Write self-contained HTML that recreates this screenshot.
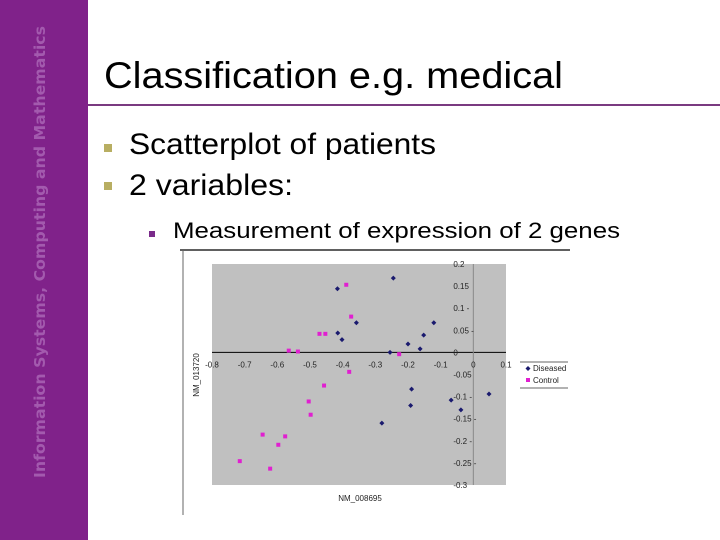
<!DOCTYPE html>
<html><head><meta charset="utf-8"><style>
body{margin:0;width:720px;height:540px;overflow:hidden;background:#fff;font-family:"Liberation Sans",sans-serif}
svg{display:block}
</style></head><body>
<svg width="720" height="540" viewBox="0 0 720 540">
<rect x="0" y="0" width="88" height="540" fill="#80228a"/>
<text transform="translate(45,478) rotate(-90)" font-family="'DejaVu Sans',sans-serif" font-weight="bold" font-size="15" fill="#a35aae" textLength="452" lengthAdjust="spacingAndGlyphs">Information Systems, Computing and Mathematics</text>
<text x="104" y="88" font-size="37" fill="#000" textLength="459" lengthAdjust="spacingAndGlyphs">Classification e.g. medical</text>
<rect x="88" y="104" width="632" height="2" fill="#7a3a80"/>
<rect x="104" y="144" width="8" height="8" fill="#b8ae62"/>
<text x="129" y="154" font-size="30" textLength="307" lengthAdjust="spacingAndGlyphs">Scatterplot of patients</text>
<rect x="104" y="182" width="8" height="8" fill="#b8ae62"/>
<text x="129" y="195" font-size="30" textLength="164" lengthAdjust="spacingAndGlyphs">2 variables:</text>
<rect x="149" y="231" width="6" height="6" fill="#7a2a8a"/>
<text x="173" y="238" font-size="22" textLength="447" lengthAdjust="spacingAndGlyphs">Measurement of expression of 2 genes</text>
<g id="chart"></g>
</svg>
<script>
const xTicks=[-0.8,-0.7,-0.6,-0.5,-0.4,-0.3,-0.2,-0.1,0,0.1];
const xTickLabels=["-0.8","-0.7","-0.6","-0.5","-0.4","-0.3","-0.2","-0.1","0","0.1"];
const yTicks=[0.2,0.15,0.1,0.05,0,-0.05,-0.1,-0.15,-0.2,-0.25,-0.3];
const yTickLabels=["0.2","0.15","0.1 -","0.05 -","0","-0.05","-0.1 -","-0.15 -","-0.2 -","-0.25 -","-0.3"];
const diseasedX=[-0.245,-0.416,-0.415,-0.402,-0.358,-0.255,-0.2,-0.163,-0.152,-0.121,-0.28,-0.189,-0.192,-0.068,-0.038,0.048];
const diseasedY=[0.168,0.144,0.044,0.029,0.067,0.0,0.019,0.008,0.039,0.067,-0.16,-0.083,-0.12,-0.108,-0.13,-0.094];
const controlX=[-0.389,-0.374,-0.471,-0.453,-0.565,-0.537,-0.227,-0.38,-0.457,-0.504,-0.498,-0.645,-0.576,-0.597,-0.715,-0.622];
const controlY=[0.153,0.081,0.042,0.042,0.004,0.002,-0.004,-0.044,-0.075,-0.111,-0.141,-0.186,-0.19,-0.209,-0.246,-0.263];
const NS="http://www.w3.org/2000/svg";
const g=document.getElementById('chart');
const X0=212,X1=506,Y0=264,Y1=485;
const sx=v=>X0+(v+0.8)/0.9*(X1-X0);
const sy=v=>Y0+(0.2-v)/0.5*(Y1-Y0);
function el(t,a){const e=document.createElementNS(NS,t);for(const k in a)e.setAttribute(k,a[k]);g.appendChild(e);return e;}
let e;
e=el('line',{x1:180,y1:250,x2:570,y2:250,stroke:'#000','stroke-width':1.2});


e=el('line',{x1:183,y1:250,x2:183,y2:515,stroke:'#666','stroke-width':1});


e=el('rect',{x:X0,y:Y0,width:X1-X0,height:Y1-Y0,fill:'#c0c0c0'});


e=el('line',{x1:X0,y1:sy(0),x2:X1,y2:sy(0),stroke:'#000','stroke-width':1});


e=el('line',{x1:sx(0),y1:Y0,x2:sx(0),y2:Y1,stroke:'#888','stroke-width':1});


xTicks.forEach((v,i)=>{
 const t=el('text',{x:sx(v),y:sy(0)+15,'font-size':8,'text-anchor':'middle',fill:'#222'});
 t.textContent=xTickLabels[i];
 
 
});
yTicks.forEach((v,i)=>{
 const t=el('text',{x:sx(0)-20,y:sy(v)+3,'font-size':8,'text-anchor':'start',fill:'#222'});
 t.textContent=yTickLabels[i];
 
 
});
diseasedX.forEach((v,i)=>{
 const cx=sx(v),cy=sy(diseasedY[i]);
 const p=el('polygon',{points:`${cx},${cy-2.5} ${cx+2.5},${cy} ${cx},${cy+2.5} ${cx-2.5},${cy}`,fill:'#1a1a6e'});
 
 
});
controlX.forEach((v,i)=>{
 const cx=sx(v),cy=sy(controlY[i]);
 const p=el('rect',{x:cx-2,y:cy-2,width:4,height:4,fill:'#e020d0'});
 
 
});
e=el('text',{x:360,y:501,'font-size':8,'text-anchor':'middle',fill:'#222'});
e.textContent='NM_008695';


e=el('text',{transform:'translate(199,375) rotate(-90)','font-size':8,'text-anchor':'middle',fill:'#222'});
e.textContent='NM_013720';


e=el('line',{x1:520,y1:362,x2:568,y2:362,stroke:'#666'});


e=el('line',{x1:520,y1:388,x2:568,y2:388,stroke:'#666'});


e=el('polygon',{points:'528,366 530.5,368.5 528,371 525.5,368.5',fill:'#1a1a6e'});


e=el('text',{x:533,y:371,'font-size':8,fill:'#222'});
e.textContent='Diseased';


e=el('rect',{x:526,y:378,width:4,height:4,fill:'#e020d0'});


e=el('text',{x:533,y:383,'font-size':8,fill:'#222'});
e.textContent='Control';


</script>
</body></html>
